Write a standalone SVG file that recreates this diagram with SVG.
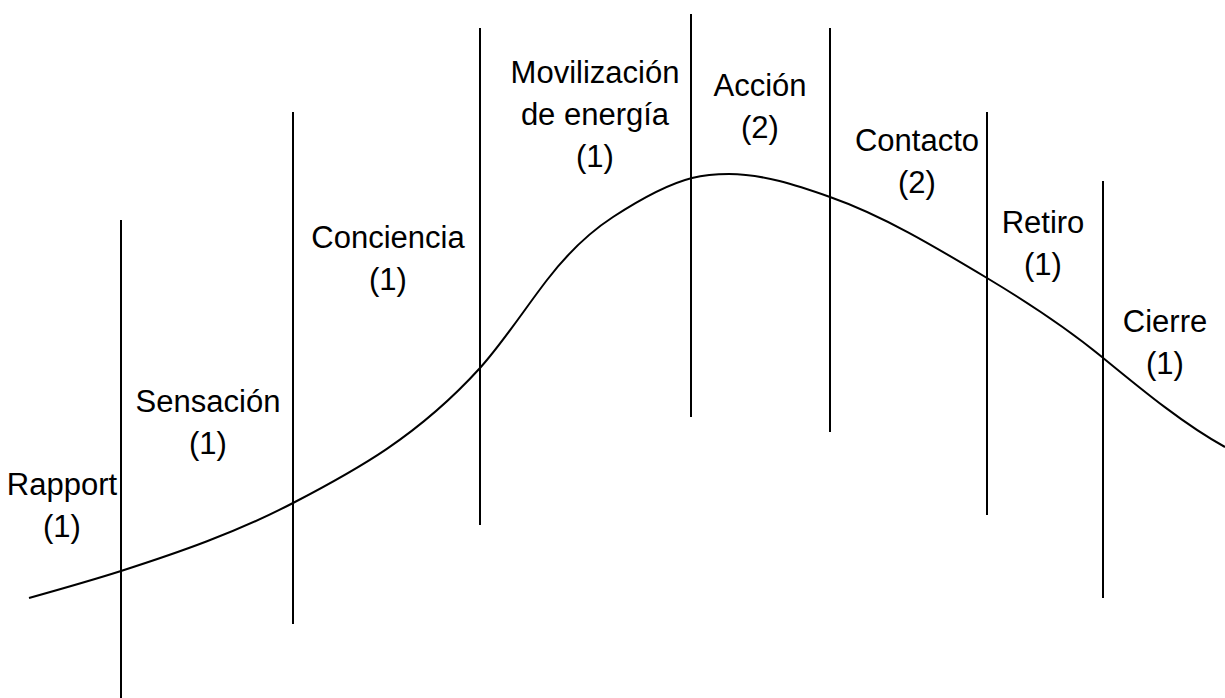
<svg xmlns="http://www.w3.org/2000/svg" width="1225" height="698" viewBox="0 0 1225 698">
<style>
.ln{stroke:#000;stroke-width:2;fill:none}
.lb{font-family:"Liberation Sans",Arial,sans-serif;font-size:31px;fill:#000;text-anchor:middle}
</style>
<rect width="1225" height="698" fill="#fff"/>
<g id="connectors">
<g id="dividers" class="ln">
<line x1="121" y1="220" x2="121" y2="698"/>
<line x1="293" y1="112" x2="293" y2="624"/>
<line x1="480" y1="28" x2="480" y2="525"/>
<line x1="691" y1="14" x2="691" y2="417"/>
<line x1="830" y1="28" x2="830" y2="432"/>
<line x1="987" y1="112" x2="987" y2="515"/>
<line x1="1103" y1="181" x2="1103" y2="598"/>
</g>
<path id="curve" class="ln" d="M29,598 C59.67,589.4 90.33,580.8 121,571 C178.33,552.65 235.67,532.8 293,503 C355.33,470.6 417.67,436.6 480,368 C502.33,343.4 524.67,309 547,280 C569,251.4 591,231.3 613,217 C639.33,199.9 665.67,184.6 692,178 C704.33,174.9 716.67,174 729,174 C762.67,174 796.33,185.2 830,197 C882.33,215.3 934.67,246.6 987,278 C1025.33,301 1063.67,325.6 1102,357 C1143,390.6 1184,424.45 1225,447"/>
</g>
<g id="rapport" class="lb"><text x="62" y="495">Rapport</text><text x="62" y="537">(1)</text></g>
<g id="sensacion" class="lb"><text x="208" y="412">Sensación</text><text x="208" y="454">(1)</text></g>
<g id="conciencia" class="lb"><text x="388" y="248">Conciencia</text><text x="388" y="290">(1)</text></g>
<g id="movilizacion" class="lb"><text x="595" y="83">Movilización</text><text x="595" y="125">de energía</text><text x="595" y="167">(1)</text></g>
<g id="accion" class="lb"><text x="760" y="96">Acción</text><text x="760" y="138">(2)</text></g>
<g id="contacto" class="lb"><text x="917" y="151">Contacto</text><text x="917" y="193">(2)</text></g>
<g id="retiro" class="lb"><text x="1043" y="233">Retiro</text><text x="1043" y="275">(1)</text></g>
<g id="cierre" class="lb"><text x="1165" y="332">Cierre</text><text x="1165" y="374">(1)</text></g>
</svg>
